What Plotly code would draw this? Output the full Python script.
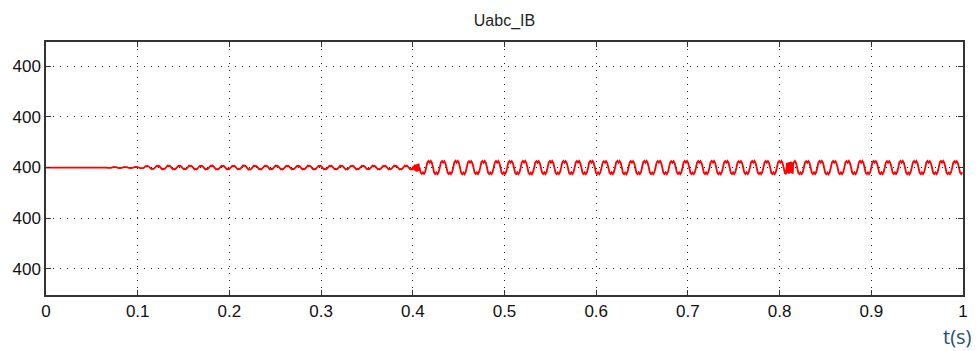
import numpy as np
import plotly.graph_objects as go

# ---------------- data ----------------
title_text = "Uabc_IB"
x_ticks = [0, 0.1, 0.2, 0.3, 0.4, 0.5, 0.6, 0.7, 0.8, 0.9, 1.0]
x_tick_labels = ["0", "0.1", "0.2", "0.3", "0.4", "0.5", "0.6", "0.7", "0.8", "0.9", "1"]
y_ticks = [399.98, 399.99, 400.0, 400.01, 400.02]
y_tick_labels = ["400", "400", "400", "400", "400"]
y_range = [399.97483, 400.02479]

base_value = 400.0
flat_end = 0.06            # signal is flat until here

# one cycle of the (flat-topped, notched) ripple, normalised
cycle_shape = [0.0, 0.8, 1.0, 0.75, 1.0, 0.7, 0.0, -0.8, -1.0, -0.75, -1.0, -0.7]

# weak ripple 0.06 s .. 0.4 s
weak_start, weak_freq = 0.06, 85.0
weak_amp = [0.00010, 0.00012, 0.00012, 0.00014, 0.00030, 0.00035, 0.00036, 0.00034,
            0.00036, 0.00035, 0.00037, 0.00035, 0.00034, 0.00040, 0.00036, 0.00035,
            0.00036, 0.00034, 0.00035, 0.00036, 0.00035, 0.00034, 0.00036, 0.00035,
            0.00034, 0.00036, 0.00035, 0.00036, 0.00037]

# strong ripple 0.4 s .. 1.0 s
strong_start, strong_freq = 0.4, 68.0
strong_amp = [0.00125, 0.00130, 0.00128, 0.00132, 0.00127, 0.00130, 0.00129, 0.00128,
              0.00131, 0.00127, 0.00130, 0.00128, 0.00129, 0.00130, 0.00127, 0.00131,
              0.00128, 0.00130, 0.00129, 0.00127, 0.00130, 0.00128, 0.00131, 0.00129,
              0.00127, 0.00130, 0.00128, 0.00129, 0.00130, 0.00127, 0.00131, 0.00128,
              0.00129, 0.00130, 0.00128, 0.00127, 0.00131, 0.00129, 0.00128, 0.00130,
              0.00127, 0.00129]

# short dense bursts
burst1_window = [0.401, 0.407]
burst1_vals = [0.0003, -0.0005, 0.0006, -0.0007, 0.0006, -0.0008, 0.0007, -0.0006,
               0.0008, -0.0007]
burst2_window = [0.808, 0.815]
burst2_vals = [0.0009, -0.0011, 0.0010, -0.0012, 0.0011, -0.0010, 0.0012, -0.0011,
               0.0010, -0.0012, 0.0011]

# ---------------- build the trace ----------------
def ripple(t0, freq, amps):
    n = len(cycle_shape)
    ts, vs = [], []
    for i, a in enumerate(amps):
        for k, s in enumerate(cycle_shape):
            ts.append(t0 + (i + k / n) / freq)
            vs.append(base_value + a * s)
    return ts, vs

t_all = [0.0, flat_end]
v_all = [base_value, base_value]
tw, vw = ripple(weak_start, weak_freq, weak_amp)
for t, v in zip(tw, vw):
    if flat_end < t < strong_start:
        t_all.append(t); v_all.append(v)
ts_, vs_ = ripple(strong_start, strong_freq, strong_amp)
for t, v in zip(ts_, vs_):
    if strong_start <= t <= 1.0:
        t_all.append(t); v_all.append(v)

t_all = np.array(t_all); v_all = np.array(v_all)
for win, vals in ((burst1_window, burst1_vals), (burst2_window, burst2_vals)):
    keep = (t_all < win[0]) | (t_all > win[1])
    t_all = np.concatenate([t_all[keep], np.linspace(win[0], win[1], len(vals))])
    v_all = np.concatenate([v_all[keep], base_value + np.array(vals)])
order = np.argsort(t_all)
t_all = t_all[order]; v_all = v_all[order]

fig = go.Figure()
fig.add_trace(go.Scatter(x=t_all, y=v_all, mode="lines",
                         line=dict(color="#ff0000", width=1.8),
                         hoverinfo="skip", showlegend=False))

axis_common = dict(
    showline=True, linecolor="#333333", linewidth=1.5, mirror="ticks",
    ticks="inside", ticklen=5, tickcolor="#333333", tickwidth=1,
    showgrid=True, gridcolor="#222222", gridwidth=1, griddash="1px,6px",
    zeroline=False,
    tickfont=dict(family="Liberation Sans, Arial, sans-serif", size=17, color="#111111"),
)

fig.update_xaxes(range=[0, 1], tickmode="array", tickvals=x_ticks,
                 ticktext=x_tick_labels, **axis_common)
fig.update_yaxes(range=y_range, tickmode="array", tickvals=y_ticks,
                 ticktext=y_tick_labels, **axis_common)

fig.update_layout(
    width=980, height=351,
    margin=dict(l=46, r=14, t=42, b=56),
    paper_bgcolor="white", plot_bgcolor="white",
    title=dict(text=title_text, x=0.5, xref="paper", xanchor="center",
               y=1 - 20 / 351, yanchor="middle",
               font=dict(family="Liberation Sans, Arial, sans-serif", size=16, color="#222222")),
    annotations=[dict(text="t(s)", xref="paper", yref="paper",
                      x=(977 - 46) / 920, xanchor="right",
                      y=-(336 - 295) / 253, yanchor="middle",
                      showarrow=False,
                      font=dict(family="Open Sans, sans-serif", size=20, color="#254e7a"))],
)

fig.write_html("out.html")
